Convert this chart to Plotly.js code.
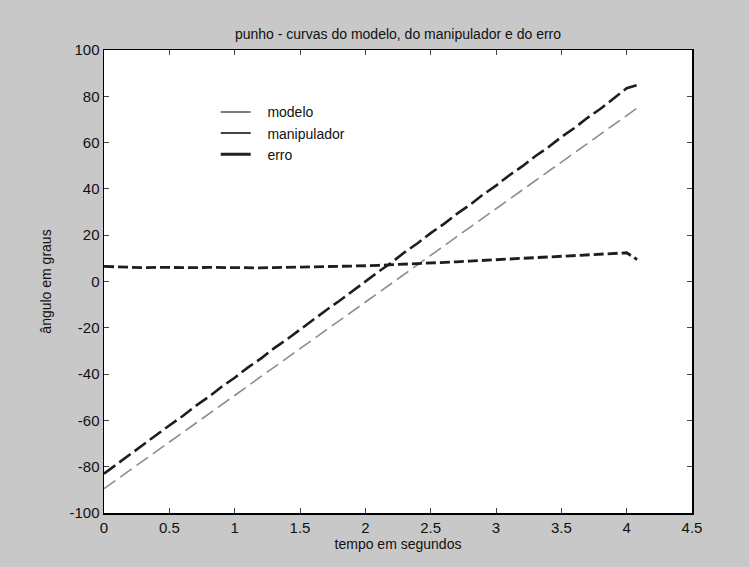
<!DOCTYPE html>
<html>
<head>
<meta charset="utf-8">
<script src="https://cdn.plot.ly/plotly-3.0.1.min.js"></script>
<style>html,body{margin:0;padding:0;background:#c8c8c8;}#chart{width:749px;height:567px;}</style>
</head>
<body>
<div id="chart"></div>
<script>
const tempo = [0,0.1,0.2,0.3,0.4,0.5,0.6,0.7,0.8,0.9,1.0,1.1,1.2,1.3,1.4,1.5,1.6,1.7,1.8,1.9,2.0,2.1,2.2,2.3,2.4,2.5,2.6,2.7,2.8,2.9,3.0,3.1,3.2,3.3,3.4,3.5,3.6,3.7,3.8,3.9,4.0,4.08];
const modelo = [-89.5,-85.5,-81.4,-77.4,-73.4,-69.4,-65.3,-61.3,-57.3,-53.2,-49.2,-45.2,-41.1,-37.1,-33.1,-29.1,-25.0,-21.0,-17.0,-12.9,-8.9,-4.9,-0.8,3.2,7.2,11.3,15.3,19.3,23.3,27.4,31.4,35.4,39.5,43.5,47.5,51.6,55.6,59.6,63.6,67.7,71.7,74.9];
const manipulador = [-83.0,-78.8,-74.8,-70.5,-66.5,-62.2,-58.2,-53.8,-49.9,-45.5,-41.6,-37.2,-33.3,-28.9,-25.0,-20.7,-16.7,-12.4,-8.4,-4.1,-0.1,4.2,8.2,12.6,16.5,20.9,24.8,29.2,33.1,37.5,41.4,45.8,49.7,54.1,58.0,62.4,66.3,70.7,74.6,79.0,83.5,84.8];
const erro = [6.5,6.3,6.2,6.0,6.1,6.0,5.9,6.0,6.1,6.0,6.2,6.0,5.9,6.0,6.1,6.0,6.2,6.4,6.5,6.6,6.8,7.0,7.2,7.4,7.6,7.9,8.2,8.5,8.8,9.1,9.4,9.7,10.0,10.3,10.6,10.9,11.3,11.6,12.0,12.3,12.4,9.5];
const nomes = ["\u00a0\u00a0\u00a0modelo","\u00a0\u00a0\u00a0manipulador","\u00a0\u00a0\u00a0erro"];
const xTicks = [0,0.5,1,1.5,2,2.5,3,3.5,4,4.5];
const xTickText = ["0","0.5","1","1.5","2","2.5","3","3.5","4","4.5"];
const yTicks = [-100,-80,-60,-40,-20,0,20,40,60,80,100];
const yTickText = ["-100","-80","-60","-40","-20","0","20","40","60","80","100"];

const traces = [
  {x: tempo, y: modelo, mode: 'lines', showlegend: false,
   line: {color: '#8c8c8c', width: 1.6, dash: '14px,6px'}},
  {x: tempo, y: manipulador, mode: 'lines', showlegend: false,
   line: {color: '#1e1e1e', width: 2.6, dash: '14px,5px'}},
  {x: tempo, y: erro, mode: 'lines', showlegend: false,
   line: {color: '#1e1e1e', width: 2.8, dash: '10px,4px'}},
  {x: [null], y: [null], mode: 'lines', name: nomes[0], line: {color: '#555', width: 1.5}},
  {x: [null], y: [null], mode: 'lines', name: nomes[1], line: {color: '#444', width: 2}},
  {x: [null], y: [null], mode: 'lines', name: nomes[2], line: {color: '#222', width: 3}}
];

const fontFam = '"Liberation Sans", Arial, sans-serif';
const layout = {
  width: 749, height: 567,
  paper_bgcolor: '#c8c8c8', plot_bgcolor: '#ffffff',
  margin: {l: 104, r: 57, t: 50, b: 54},
  font: {family: fontFam, color: '#111', size: 14},
  title: {text: 'punho - curvas do modelo, do manipulador e do erro', x: 0.5, xref: 'paper', y: 0.94, yanchor: 'middle',
          font: {family: fontFam, size: 14, color: '#111'}},
  xaxis: {range: [0, 4.5], tickvals: xTicks, ticktext: xTickText, ticks: 'inside', ticklen: 5,
          showline: true, linecolor: '#000', linewidth: 1.5, mirror: 'ticks', showgrid: false, zeroline: false,
          tickfont: {size: 15, color: '#111'},
          title: {text: 'tempo em segundos', standoff: 4, font: {size: 14, color: '#111'}}},
  yaxis: {range: [-100, 100], tickvals: yTicks, ticktext: yTickText, ticks: 'inside', ticklen: 5,
          showline: true, linecolor: '#000', linewidth: 1.5, mirror: 'ticks', showgrid: false, zeroline: false,
          tickfont: {size: 15, color: '#111'},
          title: {text: 'ângulo em graus', standoff: 14, font: {size: 14, color: '#111'}}},
  legend: {x: 0.19, y: 0.9, xanchor: 'left', yanchor: 'top', bgcolor: 'rgba(0,0,0,0)',
           font: {size: 14, color: '#111'}, tracegroupgap: 0}
};
Plotly.newPlot('chart', traces, layout, {displayModeBar: false, staticPlot: true});
</script>
</body>
</html>
